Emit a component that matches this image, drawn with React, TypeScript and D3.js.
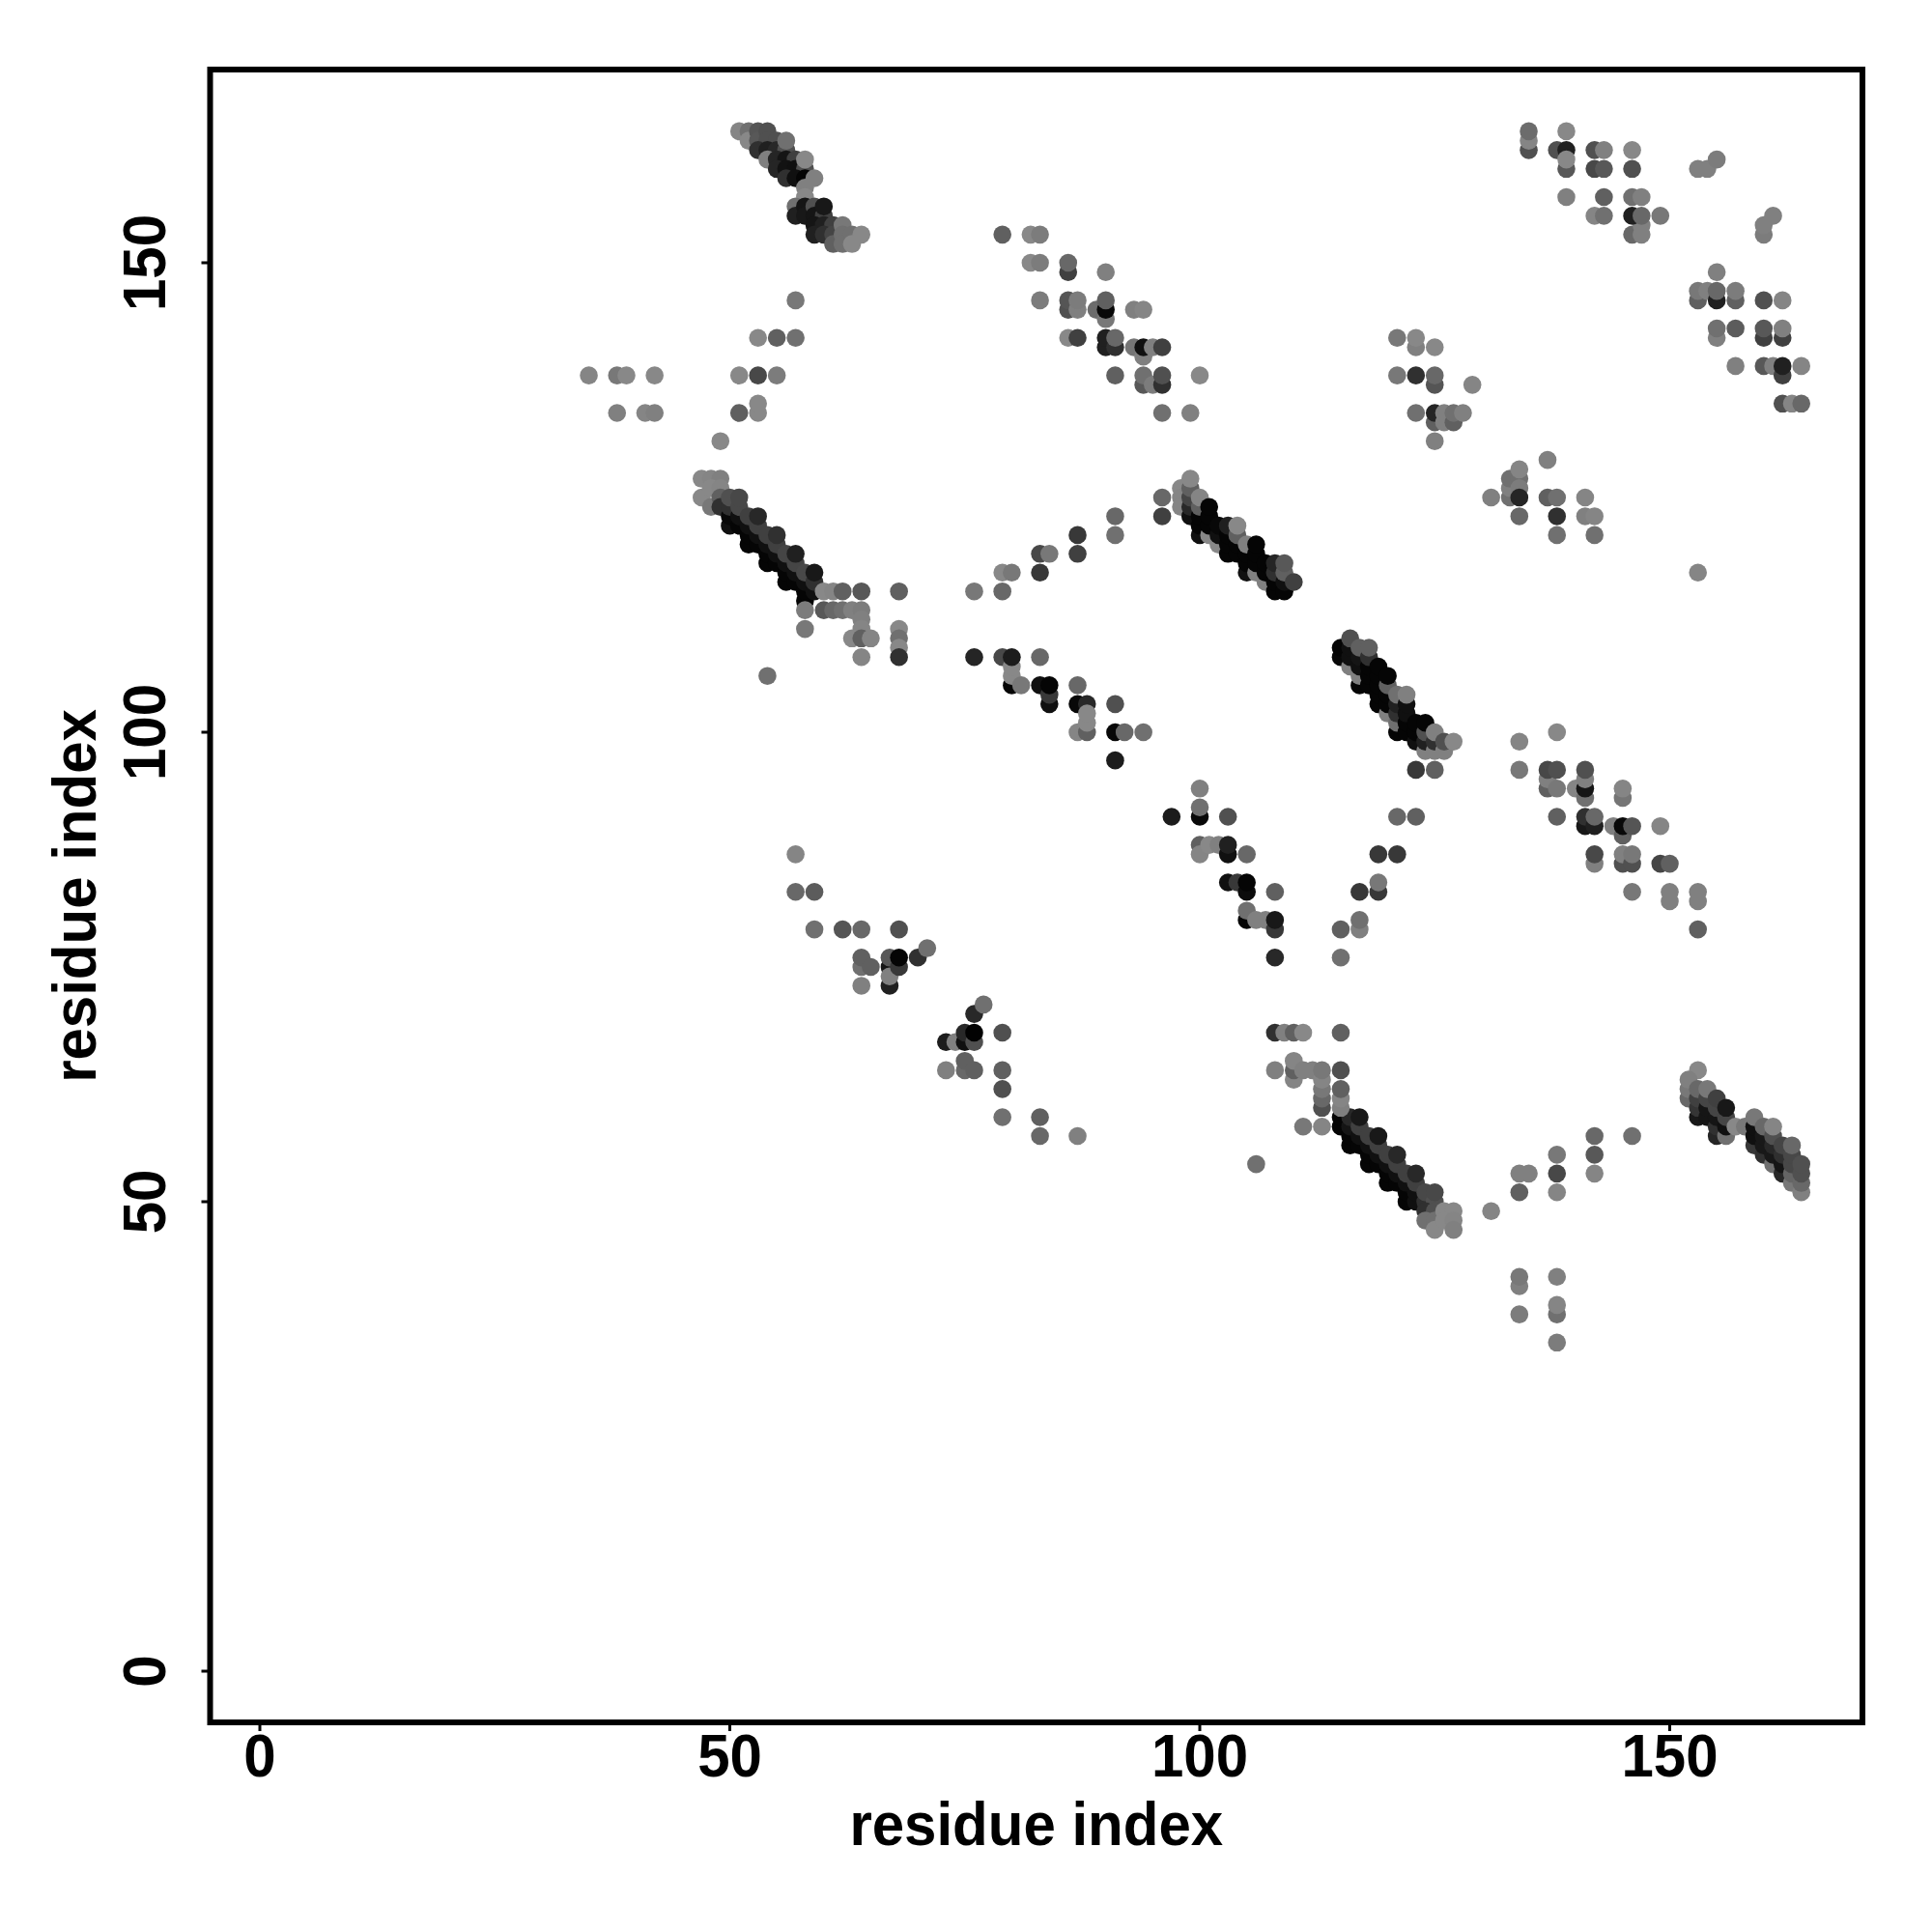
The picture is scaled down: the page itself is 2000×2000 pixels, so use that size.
import React from "react";
import * as d3 from "d3";

type P = [number, number, number];

const xTicks = [0, 50, 100, 150];
const yTicks = [0, 50, 100, 150];
const axisLabel = "residue index";

// [residue i, residue j, grey level]
const topBand: P[] = [
  [51,164,0x85],[52,164,0x70],[52,163,0x88],[53,164,0x55],[53,163,0x58],[54,164,0x50],[54,163,0x50],[55,163,0x50],
  [53,162,0x30],[54,162,0x20],[55,162,0x28],[56,162,0x50],[54,161,0x80],[55,161,0x25],[56,161,0x15],[57,161,0x40],
  [55,160,0x25],[56,160,0x12],[57,160,0x10],[58,160,0x50],[56,159,0x30],[57,159,0x10],[58,159,0x05],[56,163,0x70],[58,161,0x88],[59,159,0x80],
  [58,158,0x80],[58,157,0x88],[57,156,0x70],[57,155,0x20],[58,156,0x15],[58,155,0x18],[59,156,0x50],[59,155,0x15],[60,155,0x40],[60,156,0x18],
  [59,154,0x15],[60,154,0x20],[61,154,0x40],[59,153,0x20],[60,153,0x30],[61,153,0x45],[61,152,0x60],[62,154,0x78],[62,153,0x70],[62,152,0x70],[63,153,0x70],[64,153,0x88],[63,152,0x88],
];
const scatterUpperMiddle: P[] = [
  [35,138,0x85],[38,138,0x78],[39,138,0x88],[42,138,0x88],[38,134,0x80],[41,134,0x85],[42,134,0x80],
  [51,134,0x60],[53,134,0x88],[53,135,0x88],[51,138,0x88],[53,138,0x48],[55,138,0x7c],[53,142,0x88],[55,142,0x60],[57,142,0x70],[57,146,0x78],[49,131,0x88],
];
const helixUpper: P[] = [
  [79,153,0x60],[82,153,0x88],[83,153,0x7c],[82,150,0x88],[83,150,0x7c],[86,149,0x40],[86,150,0x68],[90,149,0x80],[83,146,0x7c],
  [86,145,0x50],[86,146,0x55],[87,145,0x80],[87,146,0x7c],[89,145,0x6c],[90,144,0x78],[90,145,0x08],[90,146,0x60],[93,145,0x80],[94,145,0x85],
  [86,142,0x88],[87,142,0x40],[90,141,0x20],[90,142,0x20],[91,141,0x30],[91,142,0x68],[93,141,0x75],[94,140,0x80],[94,141,0x10],[95,141,0x80],[96,141,0x40],
  [91,138,0x60],[94,137,0x58],[94,138,0x70],[95,137,0x7c],[96,137,0x30],[96,138,0x50],[100,138,0x88],[96,134,0x70],[99,134,0x80],
];
const topRight: P[] = [
  [121,142,0x78],[123,141,0x80],[123,142,0x88],[125,141,0x88],[121,138,0x78],[123,138,0x30],[125,137,0x55],[125,138,0x68],[129,137,0x85],
  [123,134,0x70],[125,133,0x60],[125,134,0x25],[126,133,0x80],[126,134,0x80],[127,133,0x60],[127,134,0x70],[128,134,0x80],[125,131,0x80],
  [135,162,0x50],[135,163,0x85],[135,164,0x6c],[139,164,0x88],[138,162,0x50],[139,160,0x58],[139,162,0x20],[139,161,0x88],
  [142,162,0x50],[143,162,0x80],[142,160,0x48],[143,160,0x58],[146,162,0x88],[146,160,0x50],[139,157,0x80],[143,157,0x60],[146,157,0x70],[147,157,0x80],
  [142,155,0x85],[143,155,0x70],[146,153,0x68],[147,153,0x80],[147,154,0x80],[146,155,0x20],[147,155,0x68],[149,155,0x78],
  [153,160,0x80],[154,160,0x80],[155,161,0x7c],[161,155,0x80],[160,153,0x7c],[160,154,0x80],[155,149,0x80],
  [153,146,0x60],[153,147,0x78],[154,147,0x80],[155,146,0x20],[155,147,0x68],[157,146,0x60],[157,147,0x7c],[160,146,0x50],[162,146,0x85],
  [155,142,0x80],[155,143,0x70],[157,143,0x5c],[160,142,0x40],[160,143,0x58],[162,142,0x40],[162,143,0x80],
  [157,139,0x80],[160,139,0x58],[161,139,0x80],[162,138,0x40],[162,139,0x20],[164,139,0x85],[162,135,0x50],[163,135,0x85],[164,135,0x68],
];
const band47: P[] = [
  [47,127,0x88],[48,127,0x85],[49,127,0x80],[47,125,0x88],[48,126,0x88],[49,126,0x85],[48,124,0x78],[49,125,0x60],[49,124,0x30],
  [50,122,0x10],[52,120,0x05],[54,118,0x05],[56,116,0x05],[58,114,0x05],
  [50,123,0x08],[51,122,0x05],[52,121,0x05],[53,120,0x05],[54,119,0x05],[55,118,0x05],[56,117,0x05],[57,116,0x05],[58,115,0x05],
  [50,124,0x30],[51,123,0x10],[52,122,0x10],[53,121,0x10],[54,120,0x10],[55,119,0x10],[56,118,0x10],[57,117,0x10],[58,116,0x10],[59,115,0x10],
  [50,125,0x50],[51,124,0x48],[52,123,0x40],[53,122,0x40],[54,121,0x40],[55,120,0x40],[56,119,0x45],[57,118,0x45],[58,117,0x48],[59,116,0x30],
  [51,125,0x48],[53,123,0x28],[55,121,0x30],[57,119,0x20],[59,117,0x18],
];
const tail47: P[] = [
  [60,115,0x88],[61,115,0x85],[62,115,0x60],[64,115,0x58],[68,115,0x60],
  [58,113,0x7c],[60,113,0x58],[61,113,0x68],[62,113,0x70],[63,113,0x80],[64,113,0x7c],[64,112,0x80],[58,111,0x78],[64,111,0x85],[68,111,0x88],
  [63,110,0x88],[64,110,0x60],[65,110,0x85],[68,110,0x70],[68,109,0x88],[64,108,0x85],[68,108,0x30],[54,106,0x70],
];
const chain76: P[] = [
  [76,115,0x78],[79,115,0x68],[79,117,0x88],[80,117,0x78],[83,117,0x38],[83,119,0x48],[84,119,0x78],[87,119,0x40],[87,121,0x38],[91,121,0x70],[91,123,0x68],
];
const band96: P[] = [
  [96,125,0x68],[96,123,0x40],[98,126,0x88],[98,125,0x85],[98,124,0x85],
  [99,123,0x10],[99,124,0x28],[99,125,0x45],[99,126,0x60],[99,127,0x88],
  [100,121,0x10],[100,122,0x05],[100,123,0x05],[100,124,0x60],[100,125,0x85],
  [101,121,0x88],[101,122,0x05],[101,123,0x05],[101,124,0x05],
  [102,120,0x88],[102,121,0x10],[102,122,0x08],
  [103,119,0x05],[103,120,0x05],[103,121,0x05],[103,122,0x20],
  [104,119,0x05],[104,120,0x05],[104,121,0x60],[104,122,0x88],
  [105,117,0x10],[105,118,0x05],[105,119,0x05],[105,120,0x80],
  [106,117,0x80],[106,118,0x05],[106,119,0x05],[106,120,0x05],
  [107,116,0x80],[107,117,0x05],[107,118,0x05],
  [108,115,0x05],[108,116,0x05],[108,117,0x30],[108,118,0x25],
  [109,115,0x05],[109,116,0x10],[109,117,0x60],[109,118,0x58],[110,116,0x40],
];
const chain80: P[] = [
  [76,108,0x25],[79,108,0x48],[80,105,0x05],[80,106,0x88],[80,107,0x88],[80,108,0x1c],[81,105,0x78],[83,108,0x68],[83,105,0x10],
  [84,103,0x10],[84,104,0x38],[84,105,0x05],[87,105,0x68],[87,103,0x08],[88,103,0x28],[87,100,0x85],[88,100,0x60],[88,101,0x88],[88,102,0x88],
  [91,103,0x50],[91,100,0x08],[92,100,0x68],[94,100,0x70],[91,97,0x1c],
];
const chain100: P[] = [
  [97,91,0x1c],[100,94,0x80],[100,91,0x08],[100,92,0x70],[103,91,0x50],
  [100,88,0x60],[100,87,0x85],[101,88,0x88],[102,88,0x80],[103,87,0x10],[103,88,0x20],[105,87,0x68],
  [103,84,0x10],[104,84,0x38],[105,83,0x0c],[105,84,0x05],[108,83,0x60],[105,80,0x05],[105,81,0x70],[106,80,0x80],[107,80,0x80],[108,79,0x38],[108,80,0x18],[108,76,0x28],
];
const vRight: P[] = [
  [115,76,0x70],[115,79,0x60],[117,79,0x80],[117,80,0x70],[117,83,0x38],[119,83,0x38],[119,84,0x78],[119,87,0x38],[121,87,0x38],[121,91,0x68],[123,91,0x60],[123,96,0x38],[125,96,0x60],
];
const band115: P[] = [
  [116,56,0x05],[118,54,0x05],[120,52,0x05],[122,50,0x05],
  [115,58,0x05],[116,57,0x05],[117,56,0x05],[118,55,0x05],[119,54,0x05],[120,53,0x05],[121,52,0x05],[122,51,0x05],[123,50,0x10],
  [115,59,0x05],[116,58,0x15],[117,57,0x10],[118,56,0x10],[119,55,0x10],[120,54,0x10],[121,53,0x10],[122,52,0x10],[123,51,0x10],[124,50,0x30],
  [116,59,0x28],[117,58,0x40],[118,57,0x40],[119,56,0x40],[120,55,0x40],[121,54,0x40],[122,53,0x40],[123,52,0x40],[124,51,0x48],[125,50,0x50],
  [117,59,0x18],[119,57,0x18],[121,55,0x28],[123,53,0x28],[125,51,0x48],
  [124,49,0x30],[125,49,0x50],[124,48,0x70],[125,48,0x70],[125,47,0x88],[126,49,0x88],[127,49,0x88],[126,48,0x88],[127,48,0x85],[127,47,0x80],
];
const cluster113: P[] = [
  [108,68,0x30],[109,68,0x80],[110,68,0x60],[111,68,0x88],[115,68,0x60],[108,64,0x80],[110,63,0x85],[110,64,0x60],[110,65,0x85],[111,64,0x80],[112,64,0x80],
  [113,60,0x50],[113,61,0x68],[113,62,0x78],[113,63,0x85],[113,64,0x78],[115,60,0x80],[115,61,0x85],[115,62,0x60],[115,64,0x50],
  [111,58,0x78],[113,58,0x85],[106,54,0x70],
];
const band115Upper: P[] = [
  [115,108,0x08],[115,109,0x05],[116,107,0x80],[116,108,0x10],[116,109,0x10],[116,110,0x50],
  [117,105,0x05],[117,106,0x80],[117,107,0x10],[117,108,0x15],[117,109,0x60],
  [118,105,0x05],[118,106,0x05],[118,107,0x05],[118,108,0x30],[118,109,0x60],
  [119,103,0x05],[119,104,0x05],[119,105,0x05],[119,106,0x05],[119,107,0x05],
  [120,102,0x80],[120,103,0x05],[120,104,0x05],[120,105,0x60],[120,106,0x05],
  [121,100,0x05],[121,101,0x70],[121,102,0x30],[121,103,0x20],[121,104,0x70],
  [122,100,0x05],[122,101,0x05],[122,102,0x10],[122,103,0x10],[122,104,0x80],
  [123,99,0x10],[123,100,0x05],[123,101,0x05],
  [124,98,0x80],[124,99,0x20],[124,100,0x50],[124,101,0x05],
  [125,98,0x80],[125,99,0x30],[125,100,0x80],
  [126,98,0x80],[126,99,0x50],[127,99,0x88],
];
const lowerRight: P[] = [
  [134,99,0x85],[138,100,0x88],[134,96,0x78],[137,94,0x60],[137,95,0x80],[137,96,0x48],[138,94,0x78],[138,96,0x50],
  [140,94,0x85],[141,93,0x70],[141,94,0x15],[141,95,0x80],[141,96,0x50],[145,93,0x75],[145,94,0x85],[138,91,0x60],
  [141,90,0x18],[141,91,0x30],[142,90,0x20],[142,91,0x68],[144,90,0x80],[145,89,0x60],[145,90,0x08],[146,90,0x55],[149,90,0x85],
  [142,86,0x80],[142,87,0x48],[145,86,0x50],[145,87,0x80],[146,86,0x50],[146,87,0x78],[149,86,0x45],[150,86,0x60],
  [146,83,0x78],[150,82,0x80],[150,83,0x80],[153,82,0x80],[153,83,0x80],[153,79,0x60],
];
const midRight: P[] = [
  [153,117,0x85],[131,125,0x80],[133,125,0x70],[133,126,0x80],[133,127,0x70],[134,127,0x70],[134,126,0x7c],[134,125,0x25],[134,128,0x85],[134,123,0x68],
  [137,129,0x80],[137,125,0x60],[138,125,0x70],[138,123,0x30],[138,121,0x70],[141,125,0x85],[141,123,0x80],[142,123,0x85],[142,121,0x70],
];
const lowerLeft: P[] = [
  [57,87,0x85],[57,83,0x68],[59,83,0x5c],[59,79,0x70],[62,79,0x55],[64,79,0x68],[68,79,0x50],
  [64,75,0x70],[64,76,0x60],[65,75,0x60],[64,73,0x80],[67,73,0x20],[67,75,0x15],[67,74,0x80],[67,76,0x58],[68,75,0x38],[68,76,0x05],[70,76,0x30],[71,77,0x70],
  [76,70,0x28],[77,71,0x70],[79,68,0x50],[73,67,0x1c],[74,67,0x80],[75,67,0x10],[75,68,0x28],[76,67,0x50],[76,68,0x02],
  [73,64,0x80],[75,64,0x68],[75,65,0x60],[76,64,0x60],[79,64,0x60],[79,62,0x50],[79,59,0x70],[83,59,0x60],[83,57,0x68],[87,57,0x80],
];
const lowerFar: P[] = [
  [131,49,0x85],[134,51,0x60],[134,53,0x80],[135,53,0x80],[138,55,0x78],[138,53,0x48],[138,51,0x85],[142,57,0x68],[142,55,0x58],[142,53,0x85],[146,57,0x70],
  [134,41,0x80],[134,42,0x78],[134,38,0x7c],[138,42,0x80],[138,38,0x70],[138,39,0x85],[138,35,0x7c],
];
const band152: P[] = [
  [153,64,0x88],[152,61,0x68],[152,62,0x78],[152,63,0x80],[153,59,0x18],[153,60,0x35],[153,61,0x40],[153,62,0x68],
  [154,59,0x15],[154,60,0x15],[154,61,0x45],[154,62,0x78],[155,57,0x25],[155,58,0x30],[155,59,0x15],[155,60,0x45],[155,61,0x40],
  [156,57,0x70],[156,58,0x10],[156,59,0x45],[156,60,0x18],[157,58,0x88],[158,58,0x78],
  [159,56,0x38],[159,57,0x10],[159,58,0x10],[159,59,0x78],[160,55,0x30],[160,56,0x18],[160,57,0x18],[160,58,0x68],
  [161,54,0x70],[161,55,0x18],[161,56,0x28],[161,57,0x50],[161,58,0x85],[162,53,0x28],[162,54,0x15],[162,55,0x30],[162,56,0x45],
  [163,52,0x78],[163,53,0x65],[163,54,0x48],[163,55,0x48],[163,56,0x68],[164,51,0x80],[164,52,0x68],[164,53,0x50],[164,54,0x50],
];

const clusters: P[][] = [
  topBand, scatterUpperMiddle, helixUpper, topRight, band47, tail47, chain76, band96, chain80, chain100, vRight,
  band115, cluster113, band115Upper, lowerRight, midRight, lowerLeft, lowerFar, band152,
];

const x = d3.scaleLinear().domain([0, 150]).range([269, 1728.5]);
const y = d3.scaleLinear().domain([0, 150]).range([1730, 272]);
const frame = { left: 217.5, right: 1928, top: 72, bottom: 1783 };
const font = "'Liberation Sans', Arial, sans-serif";
const stretch = 1.06;

export default function App() {
  const cx = (frame.left + frame.right) / 2;
  const cy = (frame.top + frame.bottom) / 2;
  return (
    <svg
      width={2000}
      height={2000}
      viewBox="0 0 2000 2000"
      style={{ position: "absolute", left: 0, top: 0, background: "#fff" }}
    >
      {clusters.map((c, k) => (
        <g key={k}>
          {c.map(([i, j, g], n) => (
            <circle key={n} cx={x(i)} cy={y(j)} r={9.3} fill={d3.rgb(g, g, g).formatHex()} />
          ))}
        </g>
      ))}
      <rect
        x={frame.left}
        y={frame.top}
        width={frame.right - frame.left}
        height={frame.bottom - frame.top}
        fill="none"
        stroke="#000"
        strokeWidth={6}
      />
      {xTicks.map((t) => (
        <g key={t}>
          <line x1={x(t)} x2={x(t)} y1={frame.bottom} y2={frame.bottom + 9} stroke="#000" strokeWidth={3} />
          <text
            transform={`translate(${x(t)},1839) scale(1,${stretch})`}
            textAnchor="middle"
            fontFamily={font}
            fontWeight="bold"
            fontSize={60}
          >
            {t}
          </text>
        </g>
      ))}
      {yTicks.map((t) => (
        <g key={t}>
          <line x1={frame.left} x2={frame.left - 9} y1={y(t)} y2={y(t)} stroke="#000" strokeWidth={3} />
          <text
            transform={`translate(171,${y(t)}) rotate(-90) scale(1,${stretch})`}
            textAnchor="middle"
            fontFamily={font}
            fontWeight="bold"
            fontSize={60}
          >
            {t}
          </text>
        </g>
      ))}
      <text
        transform={`translate(${cx},1910) scale(1,${stretch})`}
        textAnchor="middle"
        fontFamily={font}
        fontWeight="bold"
        fontSize={60}
      >
        {axisLabel}
      </text>
      <text
        transform={`translate(99,${cy}) rotate(-90) scale(1,${stretch})`}
        textAnchor="middle"
        fontFamily={font}
        fontWeight="bold"
        fontSize={60}
      >
        {axisLabel}
      </text>
    </svg>
  );
}
